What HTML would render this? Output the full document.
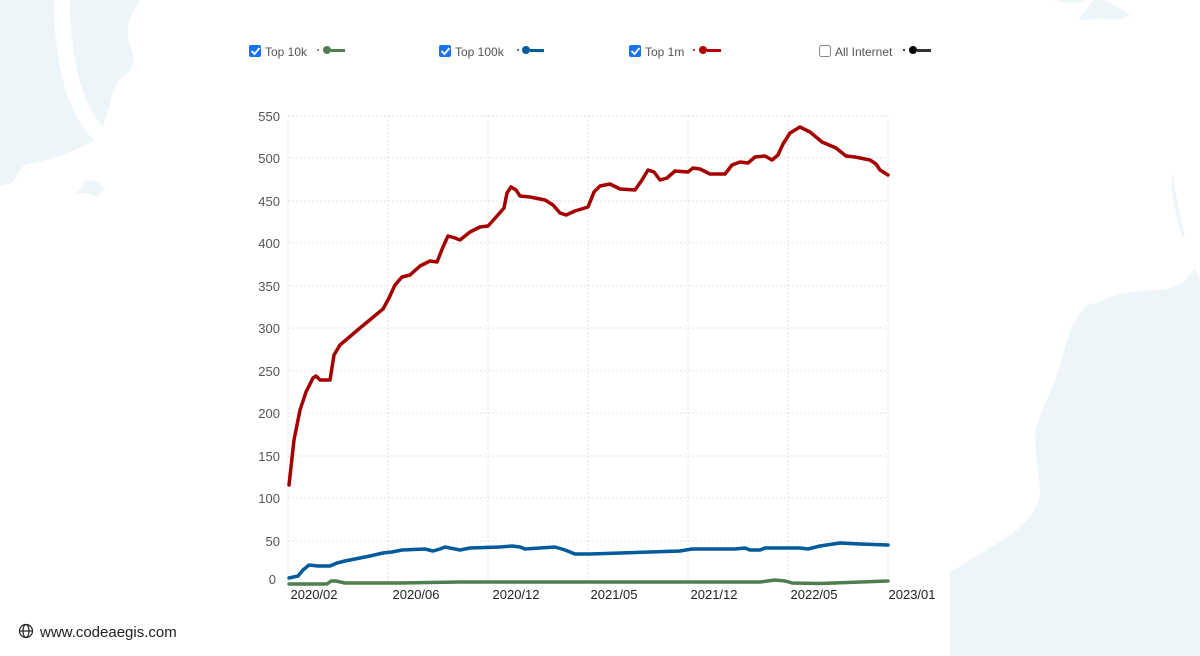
<!DOCTYPE html>
<html><head><meta charset="utf-8"><style>
html,body{margin:0;padding:0;background:#fff;}
svg{display:block;}
text{font-family:"Liberation Sans",sans-serif;}
</style></head><body>
<svg width="1200" height="656" viewBox="0 0 1200 656" xmlns="http://www.w3.org/2000/svg">
<g fill="#eef5f9">
<path d="M0,0 L140,0 C132,12 126,25 128,38 C132,52 138,62 128,72 C118,80 112,90 110,105 C104,120 102,130 100,137 C80,150 50,160 25,165 C18,170 15,180 12,183 L0,186 Z"/>
<path d="M82,182 C90,178 100,180 104,190 L96,197 C92,193 86,193 76,193 C80,188 86,186 82,182 Z"/>
<path d="M1055,0 L1085,0 C1080,3 1070,4 1055,0 Z"/>
<path d="M1093,0 L1103,0 C1112,3 1122,9 1130,15 C1125,20 1110,21 1100,18 C1092,19 1085,22 1079,19 C1083,12 1090,6 1093,0 Z"/>
<path d="M1172,172 C1176,195 1180,215 1185,237 L1182,236 C1176,215 1170,195 1172,172 Z"/>
<path d="M1195,268 L1183,283 C1170,290 1160,290 1150,290 C1130,292 1110,296 1103,300 C1095,305 1090,302 1085,307 C1075,320 1070,330 1067,340 C1063,355 1058,375 1050,392 C1044,408 1037,420 1035,435 C1035,455 1038,472 1040,487 C1041,500 1036,508 1030,517 C1020,528 1010,535 1003,540 C985,550 968,562 950,572 L950,656 L1200,656 L1200,280 Z"/>
</g>
<path d="M62,0 C62,60 75,115 103,137" stroke="#fff" stroke-width="16" fill="none"/>
<!-- legend -->
<g font-size="12" fill="#555">
<rect x="249" y="45" width="12" height="12" rx="2" fill="#1a73e8"/><path d="M251.5,51 l3,3 l5,-6" stroke="#fff" stroke-width="1.8" fill="none"/>
<text x="265" y="56">Top 10k</text><circle cx="318" cy="50" r="1" fill="#4e7d4e"/><circle cx="327" cy="50" r="4" fill="#4e7d4e"/><rect x="331" y="49" width="14" height="3" fill="#4e7d4e"/>
<rect x="439" y="45" width="12" height="12" rx="2" fill="#1a73e8"/><path d="M441.5,51 l3,3 l5,-6" stroke="#fff" stroke-width="1.8" fill="none"/>
<text x="455" y="56">Top 100k</text><circle cx="518" cy="50" r="1" fill="#005a9c"/><circle cx="526" cy="50" r="4" fill="#005a9c"/><rect x="530" y="49" width="14" height="3" fill="#005a9c"/>
<rect x="629" y="45" width="12" height="12" rx="2" fill="#1a73e8"/><path d="M631.5,51 l3,3 l5,-6" stroke="#fff" stroke-width="1.8" fill="none"/>
<text x="645" y="56">Top 1m</text><circle cx="694" cy="50" r="1" fill="#b30000"/><circle cx="703" cy="50" r="4" fill="#b30000"/><rect x="707" y="49" width="14" height="3" fill="#b30000"/>
<rect x="819.5" y="45.5" width="11" height="11" rx="2" fill="#fff" stroke="#888"/>
<text x="835" y="56">All Internet</text><circle cx="904" cy="50" r="1" fill="#000"/><circle cx="913" cy="50" r="4" fill="#000"/><rect x="917" y="49" width="14" height="3" fill="#333"/>
</g>
<!-- grid -->
<g stroke="#e2e2e2" stroke-dasharray="2,2" stroke-width="1">
<line x1="288" y1="116" x2="888" y2="116"/><line x1="288" y1="158" x2="888" y2="158"/><line x1="288" y1="201" x2="888" y2="201"/><line x1="288" y1="243" x2="888" y2="243"/><line x1="288" y1="286" x2="888" y2="286"/><line x1="288" y1="328" x2="888" y2="328"/><line x1="288" y1="371" x2="888" y2="371"/><line x1="288" y1="413" x2="888" y2="413"/><line x1="288" y1="456" x2="888" y2="456"/><line x1="288" y1="498" x2="888" y2="498"/><line x1="288" y1="541" x2="888" y2="541"/>
<line x1="288" y1="116" x2="288" y2="583"/><line x1="388" y1="116" x2="388" y2="583"/><line x1="488" y1="116" x2="488" y2="583"/><line x1="588" y1="116" x2="588" y2="583"/><line x1="688" y1="116" x2="688" y2="583"/><line x1="788" y1="116" x2="788" y2="583"/><line x1="888" y1="116" x2="888" y2="583"/>
</g>
<g font-size="13" fill="#555" text-anchor="end">
<text x="280" y="121">550</text><text x="280" y="163">500</text><text x="280" y="206">450</text><text x="280" y="248">400</text><text x="280" y="291">350</text><text x="280" y="333">300</text><text x="280" y="376">250</text><text x="280" y="418">200</text><text x="280" y="461">150</text><text x="280" y="503">100</text><text x="280" y="546">50</text><text x="276" y="584">0</text>
</g>
<g font-size="13" fill="#222" text-anchor="middle">
<text x="314" y="599">2020/02</text><text x="416" y="599">2020/06</text><text x="516" y="599">2020/12</text><text x="614" y="599">2021/05</text><text x="714" y="599">2021/12</text><text x="814" y="599">2022/05</text><text x="912" y="599">2023/01</text>
</g>
<g fill="none" stroke-width="3.5" stroke-linejoin="round" stroke-linecap="round">
<polyline stroke="#4e7d4e" points="289,584 327,584 331,581 336,581 345,583 400,583 460,582 760,582 775,580 785,581 792,583 820,583.5 888,581"/>
<polyline stroke="#005a9c" points="289,578 298,576 303,570 309,565 318,566 330,566 337,563 345,561 370,556 383,553 392,552 402,550 425,549 433,551 440,549 445,547 455,549 460,550 470,548 500,547 512,546 520,547 525,549 555,547 565,550 575,554 590,554 680,551 692,549 700,549 720,549 735,549 745,548 750,550 760,550 765,548 800,548 808,549 820,546 840,543 860,544 888,545"/>
<polyline stroke="#a50000" points="289,485 294,440 300,410 306,392 313,378 316,376 320,380 330,380 334,355 340,345 360,328 383,309 389,298 395,285 402,277 410,275 420,266 430,261 437,262 443,247 448,236 455,238 460,240 470,232 480,227 488,226 497,216 504,208 507,193 511,187 516,190 520,196 530,197 545,200 553,205 560,213 566,215 575,211 588,207 594,192 600,186 610,184 620,189 635,190 642,180 648,170 654,172 660,180 667,178 675,171 688,172 693,168 700,169 710,174 725,174 732,165 740,162 748,163 755,157 765,156 772,160 778,155 783,144 790,133 800,127 810,132 822,142 836,148 846,156 855,157 870,160 876,164 880,170 888,175"/>
</g>
<!-- footer -->
<g stroke="#222" stroke-width="1.2" fill="none">
<circle cx="26" cy="631" r="6.5"/><ellipse cx="26" cy="631" rx="3" ry="6.5"/><line x1="19.5" y1="631" x2="32.5" y2="631"/>
</g>
<text x="40" y="637" font-size="15" fill="#222">www.codeaegis.com</text>
</svg>
</body></html>
